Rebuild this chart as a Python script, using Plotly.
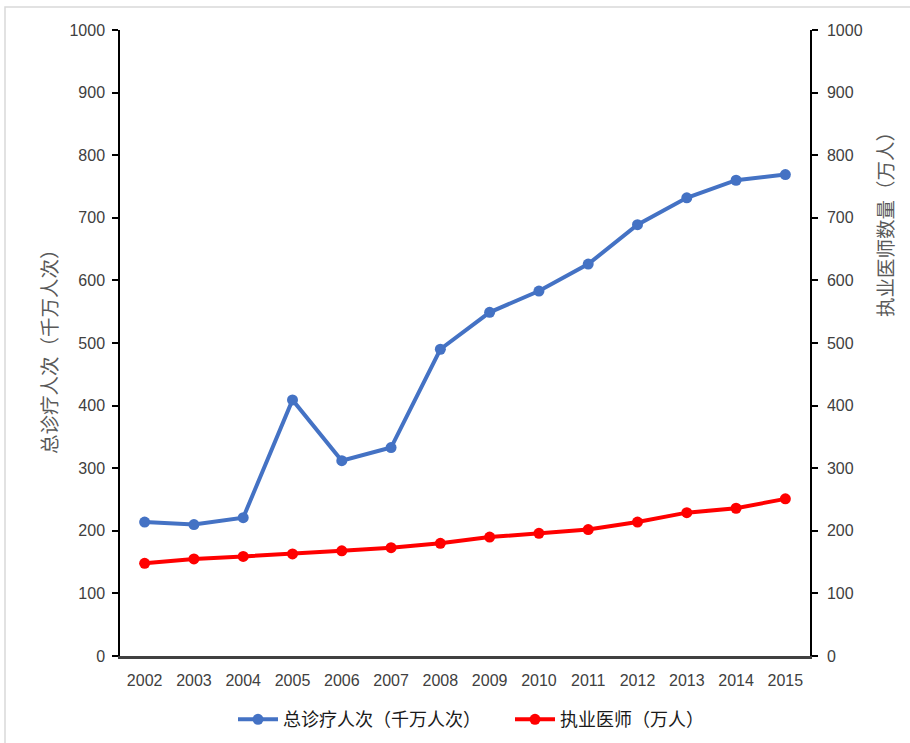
import plotly.graph_objects as go

years = ["2002", "2003", "2004", "2005", "2006", "2007", "2008",
         "2009", "2010", "2011", "2012", "2013", "2014", "2015"]
visits = [214, 210, 221, 409, 312, 333, 490, 549, 583, 626, 689, 732, 760, 769]
doctors = [148, 155, 159, 163, 168, 173, 180, 190, 196, 202, 214, 229, 236, 251]
name_visits = "总诊疗人次（千万人次）"
name_doctors = "执业医师（万人）"
left_title = "总诊疗人次（千万人次）"
right_title = "执业医师数量（万人）"
y_ticks = [0, 100, 200, 300, 400, 500, 600, 700, 800, 900, 1000]

tick_font = dict(family="Liberation Sans Narrow, Arial Narrow, Liberation Sans, sans-serif",
                 size=16, color="#404040")
cjk = "Noto Sans CJK SC, sans-serif"

fig = go.Figure()
fig.add_trace(go.Scatter(x=years, y=visits, name=name_visits, mode="lines+markers",
                         line=dict(color="#4472C4", width=4),
                         marker=dict(color="#4472C4", size=11), yaxis="y"))
fig.add_trace(go.Scatter(x=years, y=doctors, name=name_doctors, mode="lines+markers",
                         line=dict(color="#FF0000", width=4),
                         marker=dict(color="#FF0000", size=11), yaxis="y2"))

fig.update_layout(
    width=910, height=743,
    margin=dict(l=120, r=100, t=30, b=87, autoexpand=False),
    paper_bgcolor="white", plot_bgcolor="white",
    showlegend=True,
    legend=dict(orientation="h", x=(233 - 120) / 690, xanchor="left", y=-0.072, yanchor="top",
                font=dict(family=cjk, size=18, color="#1a1a1a"),
                entrywidth=222, entrywidthmode="pixels", itemwidth=40, tracegroupgap=0),
    xaxis=dict(type="category", range=[-0.5, 13.5], showgrid=False,
               showline=True, linecolor="#404040", linewidth=2.5,
               ticks="", tickfont=tick_font, zeroline=False, ticklabelstandoff=8),
    yaxis=dict(range=[0, 1000], tickvals=y_ticks, showgrid=False,
               showline=True, linecolor="#000000", linewidth=1.5,
               ticks="outside", ticklen=6, tickcolor="#000000", tickwidth=1.5,
               tickfont=tick_font, zeroline=False, ticklabelstandoff=4),
    yaxis2=dict(range=[0, 1000], tickvals=y_ticks, overlaying="y", side="right",
                showgrid=False, showline=True, linecolor="#000000", linewidth=1.5,
                ticks="outside", ticklen=6, tickcolor="#000000", tickwidth=1.5,
                tickfont=tick_font, zeroline=False, ticklabelstandoff=6),
)

fig.add_annotation(text=left_title, xref="paper", yref="paper",
                   x=(48 - 120) / 690, y=(656 - 347) / 626, xanchor="center", yanchor="middle",
                   textangle=-90, showarrow=False,
                   font=dict(family=cjk, size=19.5, color="#595959"))
fig.add_annotation(text=right_title, xref="paper", yref="paper",
                   x=(885 - 120) / 690, y=(656 - 220) / 626, xanchor="center", yanchor="middle",
                   textangle=-90, showarrow=False,
                   font=dict(family=cjk, size=19.5, color="#595959"))

# chart-area border
fig.add_shape(type="rect", xref="paper", yref="paper",
              x0=(5 - 120) / 690, x1=(960 - 120) / 690,
              y0=(656 - 800) / 626, y1=(656 - 7) / 626,
              line=dict(color="#D9D9D9", width=1.5), fillcolor="rgba(0,0,0,0)", layer="below")

fig.write_html("out.html")
